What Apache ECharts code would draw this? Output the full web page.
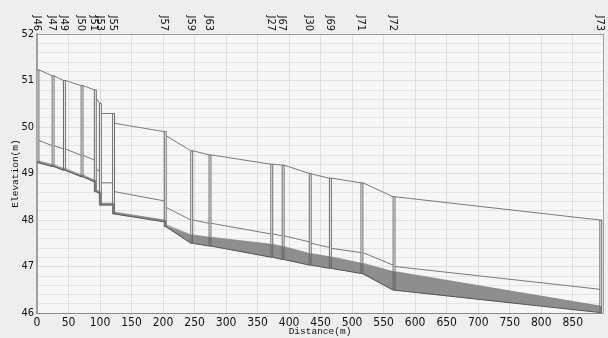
<!DOCTYPE html>
<html><head><meta charset="utf-8">
<script src="https://cdn.jsdelivr.net/npm/echarts@6/dist/echarts.min.js"></script>
<style>html,body{margin:0;padding:0;background:#eeeeee}#c{width:608px;height:338px}</style>
</head><body><div id="c"></div>
<script>
// ---- data ----
const nodeNames = ['J46','J47','J49','J50','J51','J53','J55','J57','J59','J63','J27','J67','J30','J69','J71','J72','J73'];
const nodeDist  = [0,24,42,70,91,99,120,202,244,273,371,389,432,464,514,565,893];
const groundLeft  = [51.23,51.10,51.00,50.89,50.80,50.51,50.29,49.90,49.49,49.40,49.20,49.18,49.00,48.90,48.80,48.50,48.00];
const groundRight = [51.23,51.10,51.00,50.89,50.62,50.29,50.08,49.81,49.49,49.40,49.20,49.18,48.99,48.90,48.80,48.50,48.00];
// conduits i: node i -> node i+1
const crownUp    = [49.71,49.60,49.53,49.39,49.09,48.80,48.61,48.27,48.00,47.93,47.70,47.66,47.50,47.39,47.30,47.00];
const crownDown  = [49.60,49.53,49.39,49.29,49.05,48.80,48.41,48.00,47.93,47.70,47.66,47.53,47.41,47.30,47.03,46.51];
const invertUp   = [49.23,49.15,49.07,48.93,48.61,48.32,48.13,47.86,47.50,47.44,47.20,47.15,47.03,46.96,46.85,46.49];
const invertDown = [49.15,49.07,48.93,48.82,48.57,48.32,47.96,47.50,47.44,47.20,47.15,47.03,46.96,46.85,46.49,46.01];
const waterUp    = [49.27,49.19,49.11,48.97,48.65,48.36,48.17,47.90,47.68,47.63,47.48,47.43,47.28,47.21,47.07,46.89];
const waterDown  = [49.19,49.11,48.97,48.86,48.61,48.36,48.00,47.68,47.63,47.48,47.43,47.28,47.21,47.07,46.89,46.15];
const xTicks = {min:0, max:898, interval:50};
const yTicks = {min:46, max:52, interval:1};

// ---- rendering ----
const W = 3; // manhole drawing width (m)
const nameOf = {};
nodeDist.forEach((d,i)=>{ nameOf[d] = nodeNames[i]; });

function renderConduit(params, api){
  const i = api.value(0);
  const x0 = nodeDist[i] + W, x1 = nodeDist[i+1];
  const p = (x,y)=>api.coord([x,y]);
  return {type:'group', children:[
    {type:'polygon', shape:{points:[p(nodeDist[i],invertUp[i]),p(x1,invertDown[i]),p(x1,waterDown[i]),p(nodeDist[i],waterUp[i])]},
      style:{fill:'#8e8e8e', stroke:null}},
    {type:'polyline', shape:{points:[p(x0,waterUp[i]),p(x1,waterDown[i])]}, style:{stroke:'#6a6a6a', lineWidth:0.6, fill:null}},
    {type:'polyline', shape:{points:[p(x0,crownUp[i]),p(x1,crownDown[i])]}, style:{stroke:'#7a7a7a', lineWidth:1, fill:null}},
    {type:'polyline', shape:{points:[p(x0,invertUp[i]),p(x1,invertDown[i])]}, style:{stroke:'#555', lineWidth:1, fill:null}},
    {type:'polyline', shape:{points:[p(x0,groundRight[i]),p(x1,groundLeft[i+1])]}, style:{stroke:'#7a7a7a', lineWidth:1, fill:null}}
  ]};
}
function renderNode(params, api){
  const i = api.value(0);
  const d = nodeDist[i];
  const inv = Math.min(i>0?invertDown[i-1]:99, i<invertUp.length?invertUp[i]:99);
  const wat = Math.max(i>0?waterDown[i-1]:0, i<waterUp.length?waterUp[i]:0);
  const top = Math.max(groundLeft[i], groundRight[i]);
  const a = api.coord([d, top]), b = api.coord([d+W, inv]), c = api.coord([d+W, wat]);
  return {type:'group', children:[
    {type:'rect', shape:{x:a[0], y:a[1], width:b[0]-a[0], height:b[1]-a[1]}, style:{fill:'#fbfbfb', stroke:null}},
    {type:'rect', shape:{x:a[0], y:c[1], width:b[0]-a[0], height:b[1]-c[1]}, style:{fill:'#8a8a8a', stroke:null}},
    {type:'rect', shape:{x:a[0], y:a[1], width:b[0]-a[0], height:b[1]-a[1]}, style:{fill:null, stroke:'#5a5a5a', lineWidth:0.9}}
  ]};
}

const chart = echarts.init(document.getElementById('c'), null, {renderer:'canvas'});
const tickFont = {fontFamily:'Liberation Sans Narrow, DejaVu Sans Condensed, Arial Narrow, sans-serif', fontSize:12, color:'#111'};
const nameFont = {fontFamily:'Liberation Mono, DejaVu Sans Mono, monospace', fontSize:9.5, color:'#111'};
chart.setOption({
  animation:false,
  backgroundColor:'#eeeeee',
  grid:{left:37, right:5, top:34, bottom:25, show:true, backgroundColor:'#f6f6f6', borderWidth:0,
        containLabel:false, outerBoundsMode:'none'},
  xAxis:[{
    type:'value', min:xTicks.min, max:xTicks.max, interval:xTicks.interval, position:'bottom',
    axisLine:{show:true, onZero:false, lineStyle:{color:'#8a8a8a', width:1}},
    axisTick:{show:false},
    axisLabel:Object.assign({margin:4, showMaxLabel:false}, tickFont),
    splitLine:{show:true, lineStyle:{color:'#e3dcdc', width:1}},
    name:'Distance(m)', nameLocation:'middle', nameGap:13, nameMoveOverlap:false,
    nameTextStyle:nameFont
  },{
    type:'value', min:xTicks.min, max:xTicks.max, position:'top',
    axisLine:{show:true, onZero:false, lineStyle:{color:'#9a9a9a', width:1}},
    axisTick:{show:false},
    axisLabel:Object.assign({}, tickFont, {fontSize:11, rotate:90, margin:3, hideOverlap:false, customValues:nodeDist,
      formatter:(v)=>nameOf[v]||''}),
    splitLine:{show:false}
  }],
  yAxis:[{
    type:'value', min:yTicks.min, max:yTicks.max, interval:yTicks.interval,
    axisLine:{show:true, onZero:false, lineStyle:{color:'#a0a0a0', width:2}},
    axisTick:{show:false},
    axisLabel:Object.assign({}, tickFont, {fontSize:11, margin:3}),
    splitLine:{show:true, lineStyle:{color:'#e3dcdc', width:1}},
    minorTick:{show:false, splitNumber:5},
    minorSplitLine:{show:true, lineStyle:{color:'#e8e2e2', width:1}},
    name:'Elevation(m)', nameLocation:'middle', nameGap:17, nameRotate:90, nameMoveOverlap:false,
    nameTextStyle:nameFont
  },{
    type:'value', min:yTicks.min, max:yTicks.max, position:'right',
    axisLine:{show:true, onZero:false, lineStyle:{color:'#a0a0a0', width:1}},
    axisTick:{show:false}, axisLabel:{show:false}, splitLine:{show:false}
  }],
  series:[
    {type:'custom', renderItem:renderConduit, clip:true, data:invertUp.map((v,i)=>[i])},
    {type:'custom', renderItem:renderNode, clip:true, data:nodeNames.map((n,i)=>[i])}
  ]
});
</script></body></html>
